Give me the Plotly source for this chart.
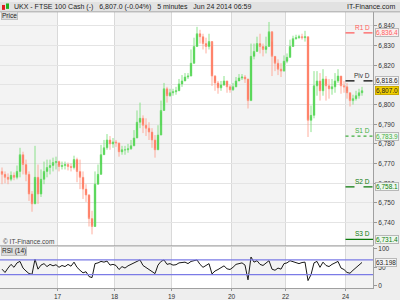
import plotly.graph_objects as go

# ---------------- data ----------------
day_labels = ["17", "18", "19", "20", "22", "24"]
day_first_bar = [19, 38, 57, 77, 95, 115]

closes = [6764.5, 6763, 6762, 6764, 6763, 6766, 6774.5, 6769.5, 6764.5, 6754.5,
          6749.5, 6763, 6754.5, 6762, 6766, 6768, 6769, 6770.5, 6771, 6768.5,
          6769, 6769.5, 6768.5, 6768, 6772, 6766, 6763, 6757, 6754, 6742,
          6738, 6759.5, 6764.5, 6774.5, 6778, 6782, 6780, 6781, 6780.5, 6776,
          6777, 6777, 6777.5, 6779, 6783, 6791, 6793, 6789.5, 6788, 6786,
          6782, 6777, 6784.5, 6797, 6808, 6804.5, 6806, 6806.5, 6807, 6810.5,
          6812, 6814, 6814.5, 6821, 6829.5, 6836, 6834.5, 6831, 6829.5, 6832,
          6814.5, 6811, 6808.5, 6810, 6812, 6809, 6807.5, 6809, 6812, 6813.5,
          6814, 6813, 6802, 6824.5, 6827, 6831, 6829.5, 6828, 6829.5, 6837,
          6824.5, 6821, 6818, 6817, 6822, 6824, 6829.5, 6833.5, 6834, 6834.5,
          6834, 6834.5, 6792, 6794.5, 6809.5, 6812, 6807, 6813, 6809.5, 6808,
          6809, 6812, 6814.5, 6809.5, 6809, 6806, 6802, 6803, 6804.5, 6806,
          6807.0]
highs = [6768, 6766, 6765, 6766, 6765.5, 6769, 6778, 6776, 6772, 6766,
         6756, 6779, 6769.5, 6767, 6771, 6772, 6772, 6773, 6773.5, 6771.5,
         6771, 6771, 6770.5, 6770, 6774, 6773, 6772, 6766, 6759.5, 6754.5,
         6746, 6766, 6769.5, 6779.5, 6782, 6785, 6784, 6783, 6782, 6780.5,
         6779, 6779, 6780, 6782, 6787, 6797, 6801, 6794.5, 6793, 6791,
         6788, 6784.5, 6789.5, 6802, 6811, 6809, 6808, 6808, 6809, 6813,
         6815, 6816, 6816, 6828, 6834, 6839.5, 6838, 6836, 6834, 6836,
         6829.5, 6815, 6812, 6812, 6814.5, 6812, 6810, 6811, 6814, 6815.5,
         6815.5, 6815, 6813, 6831, 6831, 6834.5, 6836, 6831, 6834.5, 6842,
         6832, 6824.5, 6823, 6821, 6825, 6826, 6833, 6835, 6835.5, 6835.5,
         6836, 6837.5, 6834.5, 6799.5, 6817, 6817, 6816, 6818, 6814.5, 6813,
         6813, 6816, 6818, 6814.5, 6812, 6811, 6806, 6805, 6807, 6808,
         6809]
lows = [6759.5, 6760, 6759.5, 6761, 6761.5, 6762, 6763, 6764.5, 6761, 6751,
        6745.5, 6749.5, 6749.5, 6753, 6759.5, 6763, 6764.5, 6766, 6767, 6766,
        6767, 6767, 6766.5, 6766, 6767, 6760.5, 6757, 6752, 6750.5, 6738,
        6734, 6749.5, 6759.5, 6769.5, 6774.5, 6777, 6777, 6778, 6778.5, 6773.5,
        6774.5, 6774.5, 6775.5, 6777, 6779.5, 6787, 6788, 6785.5, 6784, 6782,
        6778, 6773, 6777, 6789.5, 6799.5, 6801, 6804, 6804.5, 6805, 6808,
        6809, 6812, 6813, 6816, 6823, 6829.5, 6831, 6828, 6826, 6828,
        6809.5, 6807, 6805.5, 6807, 6809.5, 6806, 6806, 6807, 6810, 6812,
        6812.5, 6811, 6798, 6802, 6823, 6827, 6826, 6824.5, 6826, 6829.5,
        6814.5, 6817, 6815, 6814, 6819.5, 6821, 6824.5, 6831, 6833, 6833.5,
        6833, 6832, 6783.5, 6786, 6793, 6804.5, 6802, 6804.5, 6802, 6803,
        6805, 6806, 6811, 6805.5, 6806, 6803, 6799, 6800, 6802, 6803,
        6804.5]
opens = [6766.0] + closes[:-1]

rsi = [45, 36, 48, 58, 50, 62, 66, 48, 40, 33,
       31, 72, 45, 56, 60, 52, 58, 54, 57, 50,
       55, 52, 58, 53, 64, 50, 42, 35, 38, 25,
       22, 60, 62, 66, 64, 67, 56, 58, 55, 44,
       52, 48, 54, 58, 63, 68, 70, 55, 50, 45,
       38, 33, 56, 66, 70, 58, 60, 56, 57, 62,
       63, 64, 60, 66, 68, 70, 58, 50, 55, 60,
       32, 40, 44, 50, 54, 46, 44, 50, 58, 60,
       62, 56, 16, 78, 64, 68, 58, 55, 62, 68,
       45, 42, 48, 45, 60, 62, 68, 66, 62, 60,
       63, 64, 14, 30, 62, 66, 50, 64, 55, 52,
       58, 62, 66, 48, 44, 36, 34, 42, 50, 56,
       63.2]

level_names = ["R1 D", "Piv D", "S1 D", "S2 D", "S3 D"]
level_texts = ["6,836.4", "6,818.6", "6,783.9", "6,758.1", "6,731.4"]
level_drawn = [6836.4, 6812.0, 6783.9, 6758.1, 6731.4]   # where the lines appear
level_colors = ["#ff5c5c", "#000000", "#3fae3f", "#0a7a0a", "#0a7a0a"]
level_dash = ["dash", "dash", "dot", "dash", "solid"]
level_box_bg = ["#fbeeee", "#f4f4f4", "#eef7ee", "#eef7ee", "#eef7ee"]

last_price_text = "6,807.0"
last_price = 6807.0
last_rsi_text = "63.198"
last_rsi = 63.198
rsi_bands = [30, 70]
price_ticks = [6740, 6750, 6760, 6770, 6780, 6790, 6800, 6810, 6820, 6830, 6840]
price_tick_hidden = [6810]          # covered by the level boxes in the picture
rsi_ticks = [0, 50, 100]

header_left = "UKX - FTSE 100 Cash (-)   6,807.0 (-0.04%)   5 minutes   Jun 24 2014 06:59"
header_right = "IT-Finance.com"

# ---------------- geometry ----------------
W, H = 400, 300
def px(x):
    return x / W
def py(y):
    return 1 - y / H

PLOT_R = px(373)
price_dom = [py(248), py(10)]
rsi_dom = [py(291), py(249)]
n = len(closes)
idx = list(range(n))
x_lo, x_hi = -0.67, -0.67 + 373 / 3.0
price_range = [6728.15, 6847.15]
rsi_range = [-6.5, 105.5]

NARROW = "Liberation Sans Narrow, Liberation Sans, Arial, sans-serif"

fig = go.Figure()
fig.add_trace(go.Candlestick(
    x=idx, open=opens, high=highs, low=lows, close=closes,
    increasing=dict(line=dict(color="#6fdc6f", width=0.8), fillcolor="#00c400"),
    decreasing=dict(line=dict(color="#ff9a86", width=0.8), fillcolor="#ff2a00"),
    whiskerwidth=0, showlegend=False, hoverinfo="skip",
    xaxis="x", yaxis="y"))
fig.add_trace(go.Scatter(
    x=idx, y=rsi, mode="lines", line=dict(color="#1a1a1a", width=1),
    showlegend=False, hoverinfo="skip", xaxis="x2", yaxis="y2"))

boundaries = [b - 0.5 for b in day_first_bar]
shapes = []
seg_edges = [x_lo] + boundaries + [x_hi]
for k in range(0, len(seg_edges) - 1, 2):
    shapes.append(dict(type="rect", xref="x", yref="paper",
                       x0=seg_edges[k], x1=seg_edges[k + 1],
                       y0=rsi_dom[0], y1=price_dom[1],
                       fillcolor="#f3f3f3", line=dict(width=0), layer="below"))
shapes.append(dict(type="rect", xref="paper", yref="paper", x0=0, x1=1,
                   y0=py(10), y1=1, fillcolor="#e2e2e2", line=dict(width=0)))
shapes.append(dict(type="line", xref="paper", yref="paper", x0=0, x1=1,
                   y0=py(10), y1=py(10), line=dict(color="#a8a8a8", width=1)))
shapes.append(dict(type="rect", xref="paper", yref="paper", x0=px(2), x1=px(5),
                   y0=py(8), y1=py(3), fillcolor="#e02020", line=dict(width=0)))
shapes.append(dict(type="rect", xref="paper", yref="paper", x0=px(6), x1=px(9),
                   y0=py(7), y1=py(1.5), fillcolor="#20b020", line=dict(width=0)))
shapes.append(dict(type="line", xref="paper", yref="paper", x0=0, x1=PLOT_R,
                   y0=py(248), y1=py(248), line=dict(color="#9a9a9a", width=1)))
for b in rsi_bands:
    shapes.append(dict(type="line", xref="x2", yref="y2", x0=x_lo, x1=x_hi,
                       y0=b, y1=b, line=dict(color="#7b7be6", width=1.2)))
for v, c, d in zip(level_drawn, level_colors, level_dash):
    shapes.append(dict(type="line", xref="x", yref="y", x0=boundaries[-1], x1=x_hi,
                       y0=v, y1=v, line=dict(color=c, width=1.3 if d != "dot" else 1.2, dash=d)))

ann = []
ann.append(dict(text=header_left, xref="paper", yref="paper", x=px(12), y=py(5),
                xanchor="left", yanchor="middle", showarrow=False,
                font=dict(family=NARROW, size=7, color="#222")))
ann.append(dict(text=header_right, xref="paper", yref="paper", x=px(397), y=py(5),
                xanchor="right", yanchor="middle", showarrow=False,
                font=dict(family=NARROW, size=7, color="#222")))
ann.append(dict(text="Price", xref="paper", yref="paper", x=px(0.5), y=py(14),
                xanchor="left", yanchor="middle", showarrow=False,
                bgcolor="#dcdcdc", bordercolor="#c0c0c0", borderwidth=1, borderpad=0,
                font=dict(family=NARROW, size=6.5, color="#222")))
ann.append(dict(text="© IT-Finance.com", xref="paper", yref="paper", x=px(1), y=py(244),
                xanchor="left", yanchor="middle", showarrow=False,
                font=dict(family=NARROW, size=6.5, color="#444")))
ann.append(dict(text="RSI (14)", xref="paper", yref="paper", x=px(0.5), y=py(253),
                xanchor="left", yanchor="middle", showarrow=False,
                bgcolor="#dcdcdc", bordercolor="#c0c0c0", borderwidth=1, borderpad=0,
                font=dict(family=NARROW, size=6.5, color="#222")))
for name, txt, v, c, bg in zip(level_names, level_texts, level_drawn, level_colors, level_box_bg):
    ann.append(dict(text=name, xref="paper", yref="y", x=px(372), y=v,
                    xanchor="right", yanchor="bottom", showarrow=False,
                    font=dict(family=NARROW, size=6.5, color=c if c != "#000000" else "#333")))
    ann.append(dict(text=txt, xref="paper", yref="y", x=px(375), y=v,
                    xanchor="left", yanchor="middle", showarrow=False,
                    bgcolor=bg, bordercolor="#b8b8b8", borderwidth=1, borderpad=0,
                    font=dict(family=NARROW, size=6.5, color=c if c != "#000000" else "#222")))
ann.append(dict(text=last_price_text, xref="paper", yref="y", x=px(375), y=last_price,
                xanchor="left", yanchor="middle", showarrow=False,
                bgcolor="#f2cf00", bordercolor="#c9a800", borderwidth=1, borderpad=0,
                font=dict(family=NARROW, size=6.5, color="#222")))
ann.append(dict(text=last_rsi_text, xref="paper", yref="y2", x=px(375), y=last_rsi,
                xanchor="left", yanchor="middle", showarrow=False,
                bgcolor="#f4f4f4", bordercolor="#b8b8b8", borderwidth=1, borderpad=0,
                font=dict(family=NARROW, size=6.5, color="#222")))

tick_font = dict(family=NARROW, size=6.5, color="#333")
fig.update_layout(
    width=W, height=H, margin=dict(l=0, r=0, t=0, b=0),
    paper_bgcolor="#eeeeee", plot_bgcolor="#ffffff",
    shapes=shapes, annotations=ann, showlegend=False,
    xaxis=dict(domain=[0, PLOT_R], anchor="y", range=[x_lo, x_hi],
               tickvals=boundaries, showticklabels=False, showgrid=True,
               gridcolor="#d9d9d9", gridwidth=1, zeroline=False,
               rangeslider=dict(visible=False), matches="x2", fixedrange=True),
    xaxis2=dict(domain=[0, PLOT_R], anchor="y2", range=[x_lo, x_hi],
                tickvals=boundaries, ticktext=day_labels, showgrid=True,
                gridcolor="#d9d9d9", zeroline=False, ticks="outside", ticklen=2,
                tickcolor="#999", showline=True, linecolor="#a0a0a0",
                tickfont=tick_font, fixedrange=True),
    yaxis=dict(domain=price_dom, anchor="x", side="right", range=price_range,
               tickvals=price_ticks,
               ticktext=["" if t in price_tick_hidden else f"{t:,}" for t in price_ticks],
               showgrid=True, gridcolor="#e4e4e4", zeroline=False,
               ticks="outside", ticklen=3, tickcolor="#999",
               showline=True, linecolor="#a0a0a0", tickfont=tick_font, fixedrange=True),
    yaxis2=dict(domain=rsi_dom, anchor="x2", side="right", range=rsi_range,
                tickvals=rsi_ticks, showgrid=False, zeroline=False,
                ticks="outside", ticklen=3, tickcolor="#999",
                showline=True, linecolor="#a0a0a0", tickfont=tick_font, fixedrange=True),
)
fig.write_html("out.html")
